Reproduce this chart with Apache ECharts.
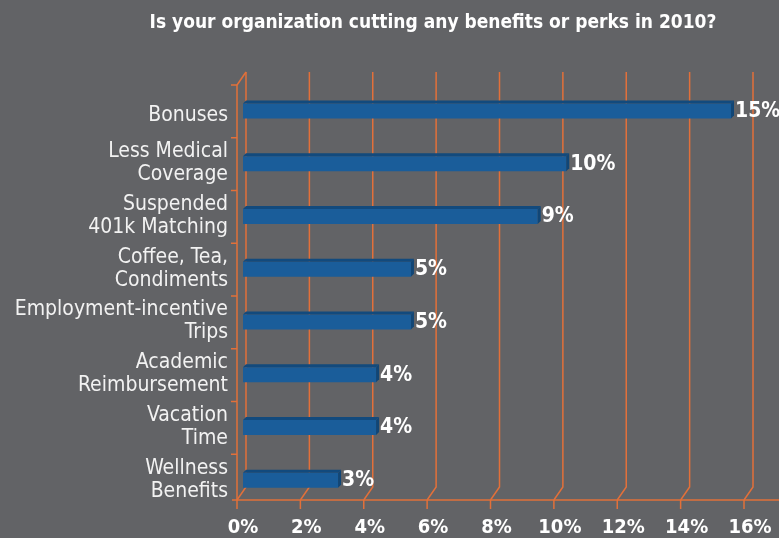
<!DOCTYPE html>
<html>
<head>
<meta charset="utf-8">
<script src="https://cdn.jsdelivr.net/npm/echarts@6/dist/echarts.min.js"></script>
<style>
  html, body { margin: 0; padding: 0; background: #626366; }
  #chart { width: 779px; height: 538px; }
</style>
</head>
<body>
<div id="chart"></div>
<script>
// categories from bottom to top (category axis starts at the bottom)
var categories = [
  'Wellness\nBenefits',
  'Vacation\nTime',
  'Academic\nReimbursement',
  'Employment-incentive\nTrips',
  'Coffee, Tea,\nCondiments',
  'Suspended\n401k Matching',
  'Less Medical\nCoverage',
  'Bonuses'
];
var values = [3.0, 4.2, 4.2, 5.3, 5.3, 9.3, 10.2, 15.4];
var labels = ['3%', '4%', '4%', '5%', '5%', '9%', '10%', '15%'];
var ticks = [0, 2, 4, 6, 8, 10, 12, 14, 16];

var orange = '#e2703a';
var narrow = "'Liberation Sans Narrow', 'DejaVu Sans Condensed', sans-serif";

var chart = echarts.init(document.getElementById('chart'));

var barData = values.map(function (v, i) { return [v, i, labels[i]]; });
var frameData = ticks.map(function (t) { return [t, 0]; });

var option = {
  backgroundColor: '#626366',
  title: {
    text: 'Is your organization cutting any benefits or perks in 2010?',
    left: 428,
    textAlign: 'center',
    top: 9,
    textStyle: { color: '#ffffff', fontFamily: narrow, fontWeight: 'bold', fontSize: 19 }
  },
  grid: { left: 243, right: 29, top: 84, bottom: 29 },
  xAxis: {
    type: 'value',
    min: 0,
    max: 16,
    interval: 2,
    axisLine: { show: false },
    axisTick: { show: false },
    splitLine: { show: false },
    axisLabel: {
      formatter: '{value}%',
      color: '#ffffff',
      fontFamily: narrow,
      fontWeight: 'bold',
      fontSize: 20,
      margin: 12
    }
  },
  yAxis: {
    type: 'category',
    data: categories,
    axisLine: { show: false },
    axisTick: { show: false },
    axisLabel: {
      color: '#f2f2f2',
      fontFamily: narrow,
      fontSize: 21,
      lineHeight: 23,
      margin: 15,
      formatter: function (v) {
        return v.indexOf('\n') < 0 ? '{one|' + v + '}' : v;
      },
      rich: {
        one: { color: '#f2f2f2', fontFamily: narrow, fontSize: 21, padding: [11, 0, 0, 0] }
      }
    }
  },
  series: [
    {
      type: 'custom',
      name: 'frame',
      data: frameData,
      clip: false,
      z: 1,
      encode: { x: 0, y: 1 },
      renderItem: function (params, api) {
        var cs = params.coordSys;
        var x = api.coord([api.value(0), 0])[0];
        var top = cs.y + 1, floor = cs.y + cs.height - 6;
        var style = { stroke: orange, lineWidth: 1.5, fill: null };
        var children = [
          { type: 'polyline', shape: { points: [[x + 3, top - 13], [x + 3, floor - 13], [x - 6, floor]] }, style: style },
          { type: 'line', shape: { x1: x - 6, y1: floor, x2: x - 6, y2: floor + 9 }, style: style }
        ];
        if (params.dataIndex === 0) {
          var band = cs.height / categories.length;
          children.push({ type: 'line', shape: { x1: x - 11, y1: floor, x2: 779, y2: floor }, style: style });
          children.push({ type: 'line', shape: { x1: x - 6, y1: top, x2: x - 6, y2: floor }, style: style });
          children.push({ type: 'line', shape: { x1: x - 6, y1: top, x2: x + 3, y2: top - 13 }, style: style });
          for (var k = 0; k < categories.length; k++) {
            var ty = top + k * band;
            children.push({ type: 'line', shape: { x1: x - 12, y1: ty, x2: x - 6, y2: ty }, style: style });
          }
        }
        return { type: 'group', children: children };
      }
    },
    {
      type: 'custom',
      name: 'bars',
      data: barData,
      clip: false,
      z: 3,
      encode: { x: 0, y: 1 },
      renderItem: function (params, api) {
        var c = api.value(1);
        var s = api.coord([0, c]);
        var e = api.coord([api.value(0), c]);
        var y0 = s[1] - 7, h = 15, d = 3;
        return {
          type: 'group',
          children: [
            { type: 'rect', shape: { x: s[0], y: y0, width: e[0] - s[0], height: h }, style: { fill: '#1a5d9a' } },
            { type: 'polygon', shape: { points: [[s[0], y0], [s[0] + d, y0 - d], [e[0] + d, y0 - d], [e[0], y0]] }, style: { fill: '#124a7d' } },
            { type: 'polygon', shape: { points: [[e[0], y0], [e[0] + d, y0 - d], [e[0] + d, y0 + h - d], [e[0], y0 + h]] }, style: { fill: '#114676' } },
            {
              type: 'text',
              x: e[0] + d + 1,
              y: s[1] + 1,
              style: {
                text: api.value(2),
                fill: '#ffffff',
                font: 'bold 21px ' + narrow,
                verticalAlign: 'middle',
                align: 'left'
              }
            }
          ]
        };
      }
    }
  ]
};

chart.setOption(option);
</script>
</body>
</html>
